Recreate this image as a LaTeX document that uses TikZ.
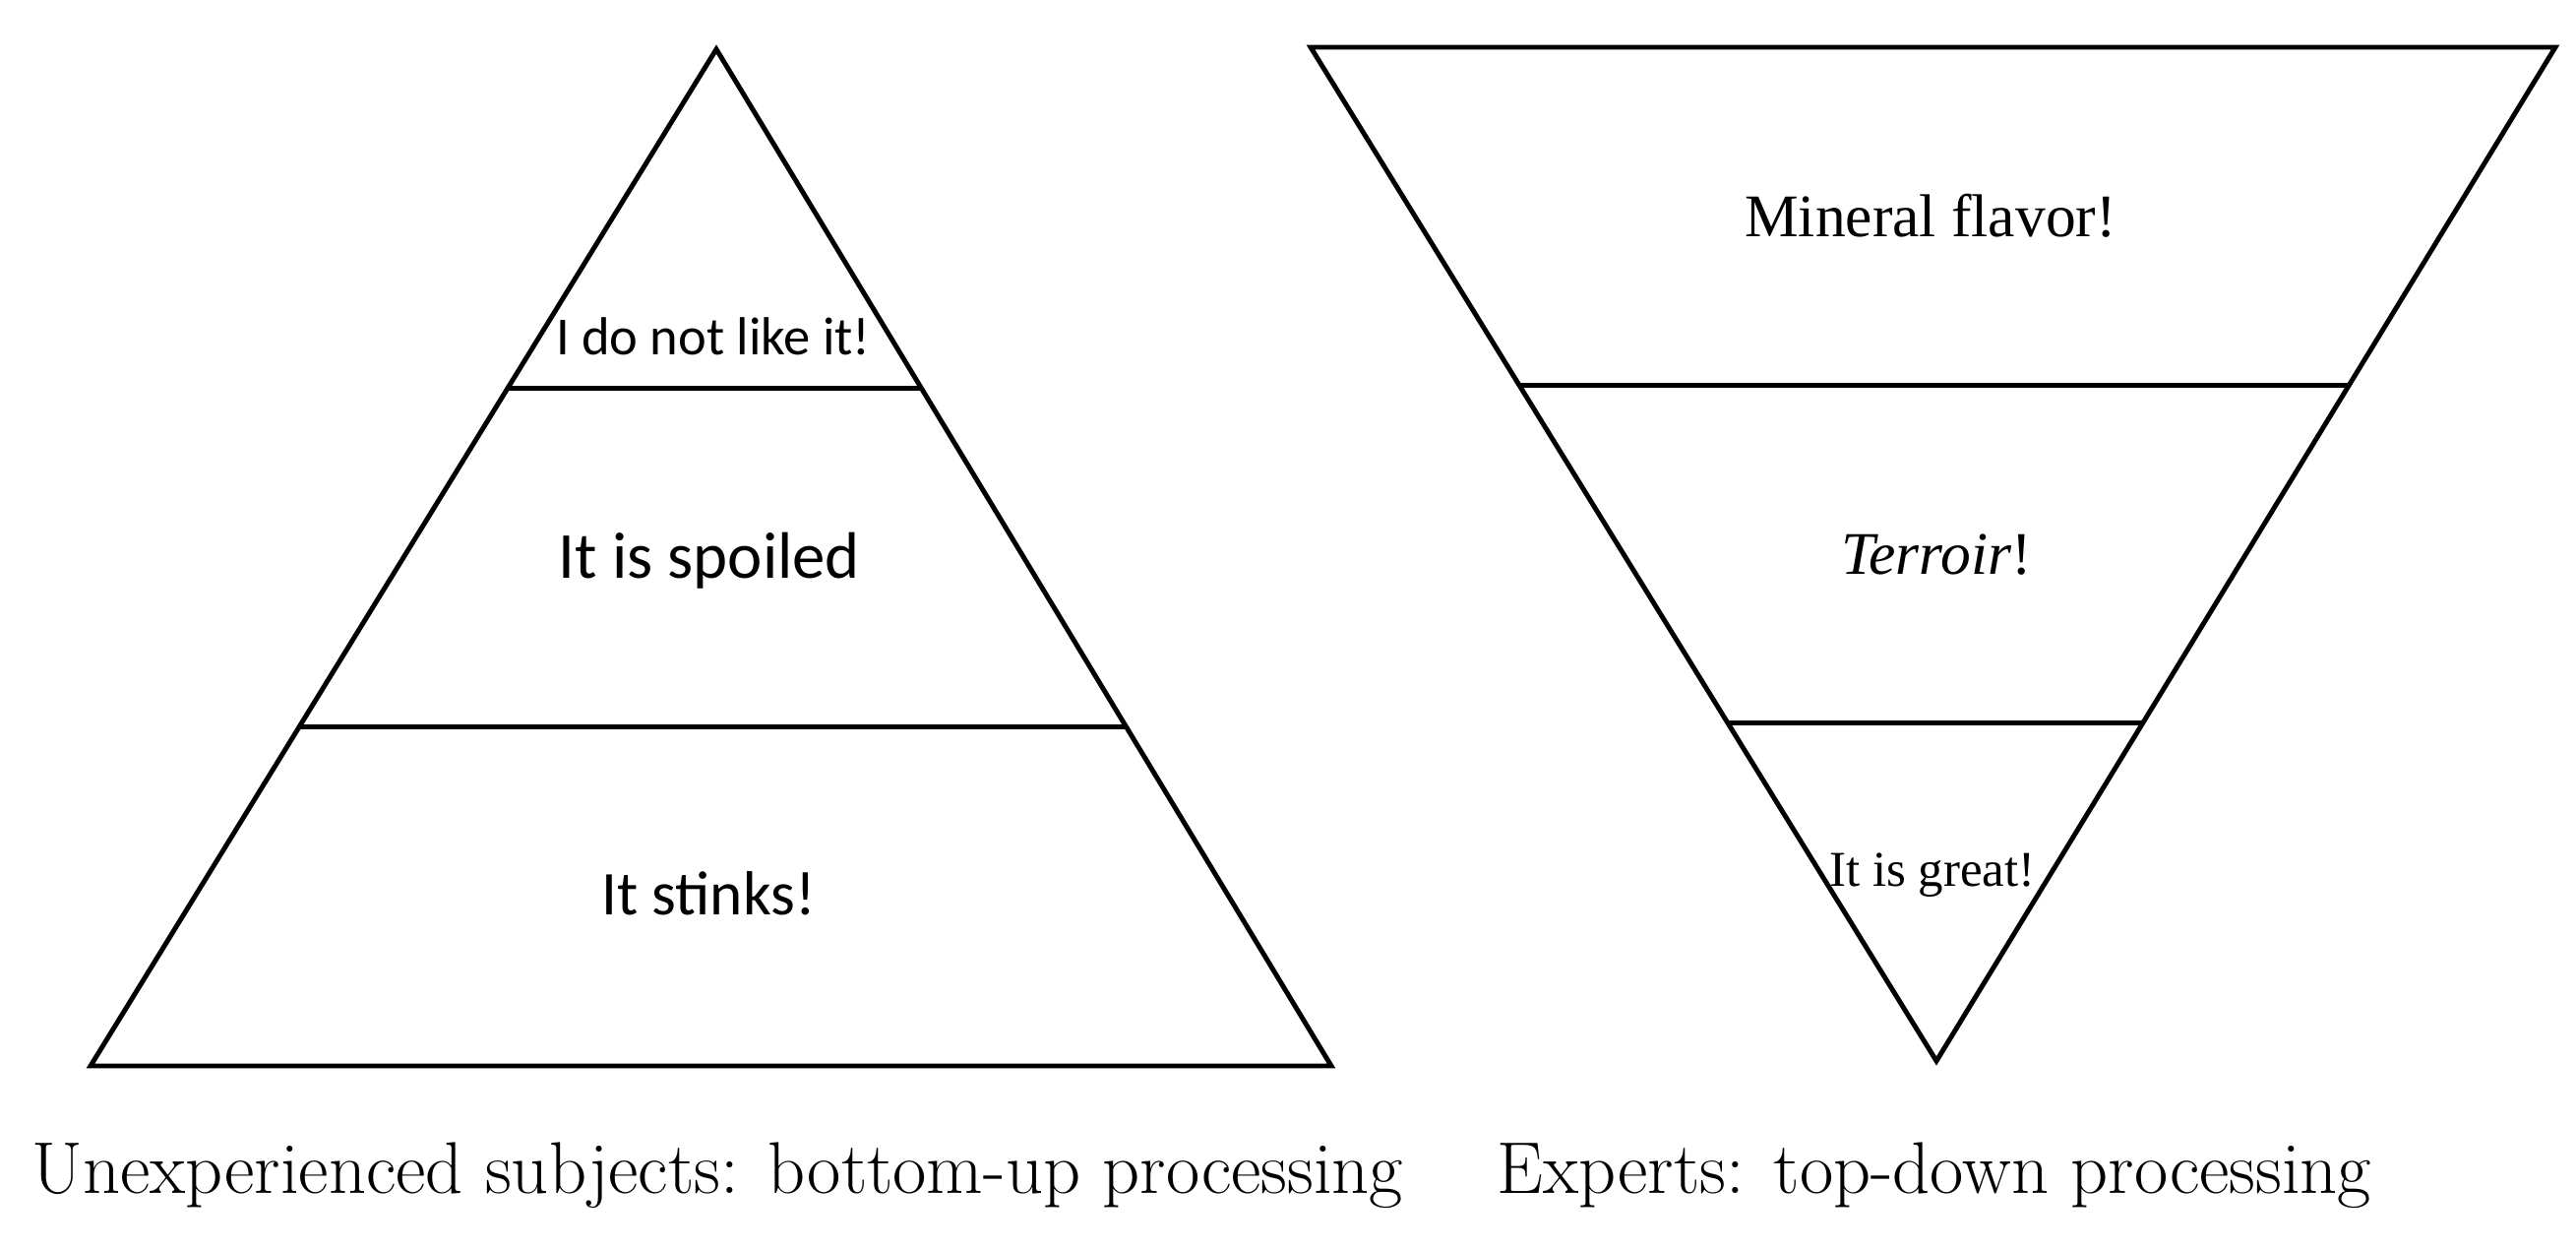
\documentclass[tikz,border=0pt]{standalone}
\usepackage{fontspec}
\newfontfamily\calibrifont{Carlito}
\newfontfamily\timesfont{Liberation Serif}
\usetikzlibrary{calc}

\begin{document}
\begin{tikzpicture}[x=0.1mm, y=-0.1mm, line width=1.4pt,
    sanslabel/.style={anchor=base, inner sep=0pt, font=\calibrifont\fontsize{#1}{#1}\selectfont},
    seriflabel/.style={anchor=base, inner sep=0pt, font=\timesfont\fontsize{#1}{#1}\selectfont},
    caption/.style={anchor=base west, inner sep=0pt, font=\fontsize{21.2}{24}\selectfont}]
  \useasboundingbox (0,0) rectangle (2618,1269);

  % bottom-up pyramid
  \coordinate (la) at (728,50);
  \coordinate (lbl) at (92,1083);
  \coordinate (lbr) at (1353,1083);
  \coordinate (l1w) at ($(la)!1/3!(lbl)$);
  \coordinate (l1e) at ($(la)!1/3!(lbr)$);
  \coordinate (l2w) at ($(la)!2/3!(lbl)$);
  \coordinate (l2e) at ($(la)!2/3!(lbr)$);
  \draw (la) -- (lbl) -- (lbr) -- cycle;
  \draw (l1w) -- (l1e);
  \draw (l2w) -- (l2e);
  \node[sanslabel=15.5] (like) at (725,360) {I do not like it!};
  \node[sanslabel=19] (spoiled) at (721,587) {It is spoiled};
  \node[sanslabel=18] (stinks) at (720,929) {It stinks!};

  % top-down pyramid
  \coordinate (rtl) at (1332,48);
  \coordinate (rtr) at (2597,48);
  \coordinate (ra) at (1968,1078);
  \coordinate (r1w) at ($(rtl)!1/3!(ra)$);
  \coordinate (r1e) at ($(rtr)!1/3!(ra)$);
  \coordinate (r2w) at ($(rtl)!2/3!(ra)$);
  \coordinate (r2e) at ($(rtr)!2/3!(ra)$);
  \draw (rtl) -- (rtr) -- (ra) -- cycle;
  \draw (r1w) -- (r1e);
  \draw (r2w) -- (r2e);
  \node[seriflabel=17.5] (mineral) at (1962,240) {Mineral flavor!};
  \node[seriflabel=17.5] (terroir) at (1968,583) {\textit{Terroir}!};
  \node[seriflabel=14.5] (great) at (1964,900) {It is great!};

  % captions
  \node[caption] (novice) at (30,1212) {Unexperienced subjects: bottom-up processing};
  \node[caption] (expert) at (1519,1212) {Experts: top-down processing};
\end{tikzpicture}
\end{document}
